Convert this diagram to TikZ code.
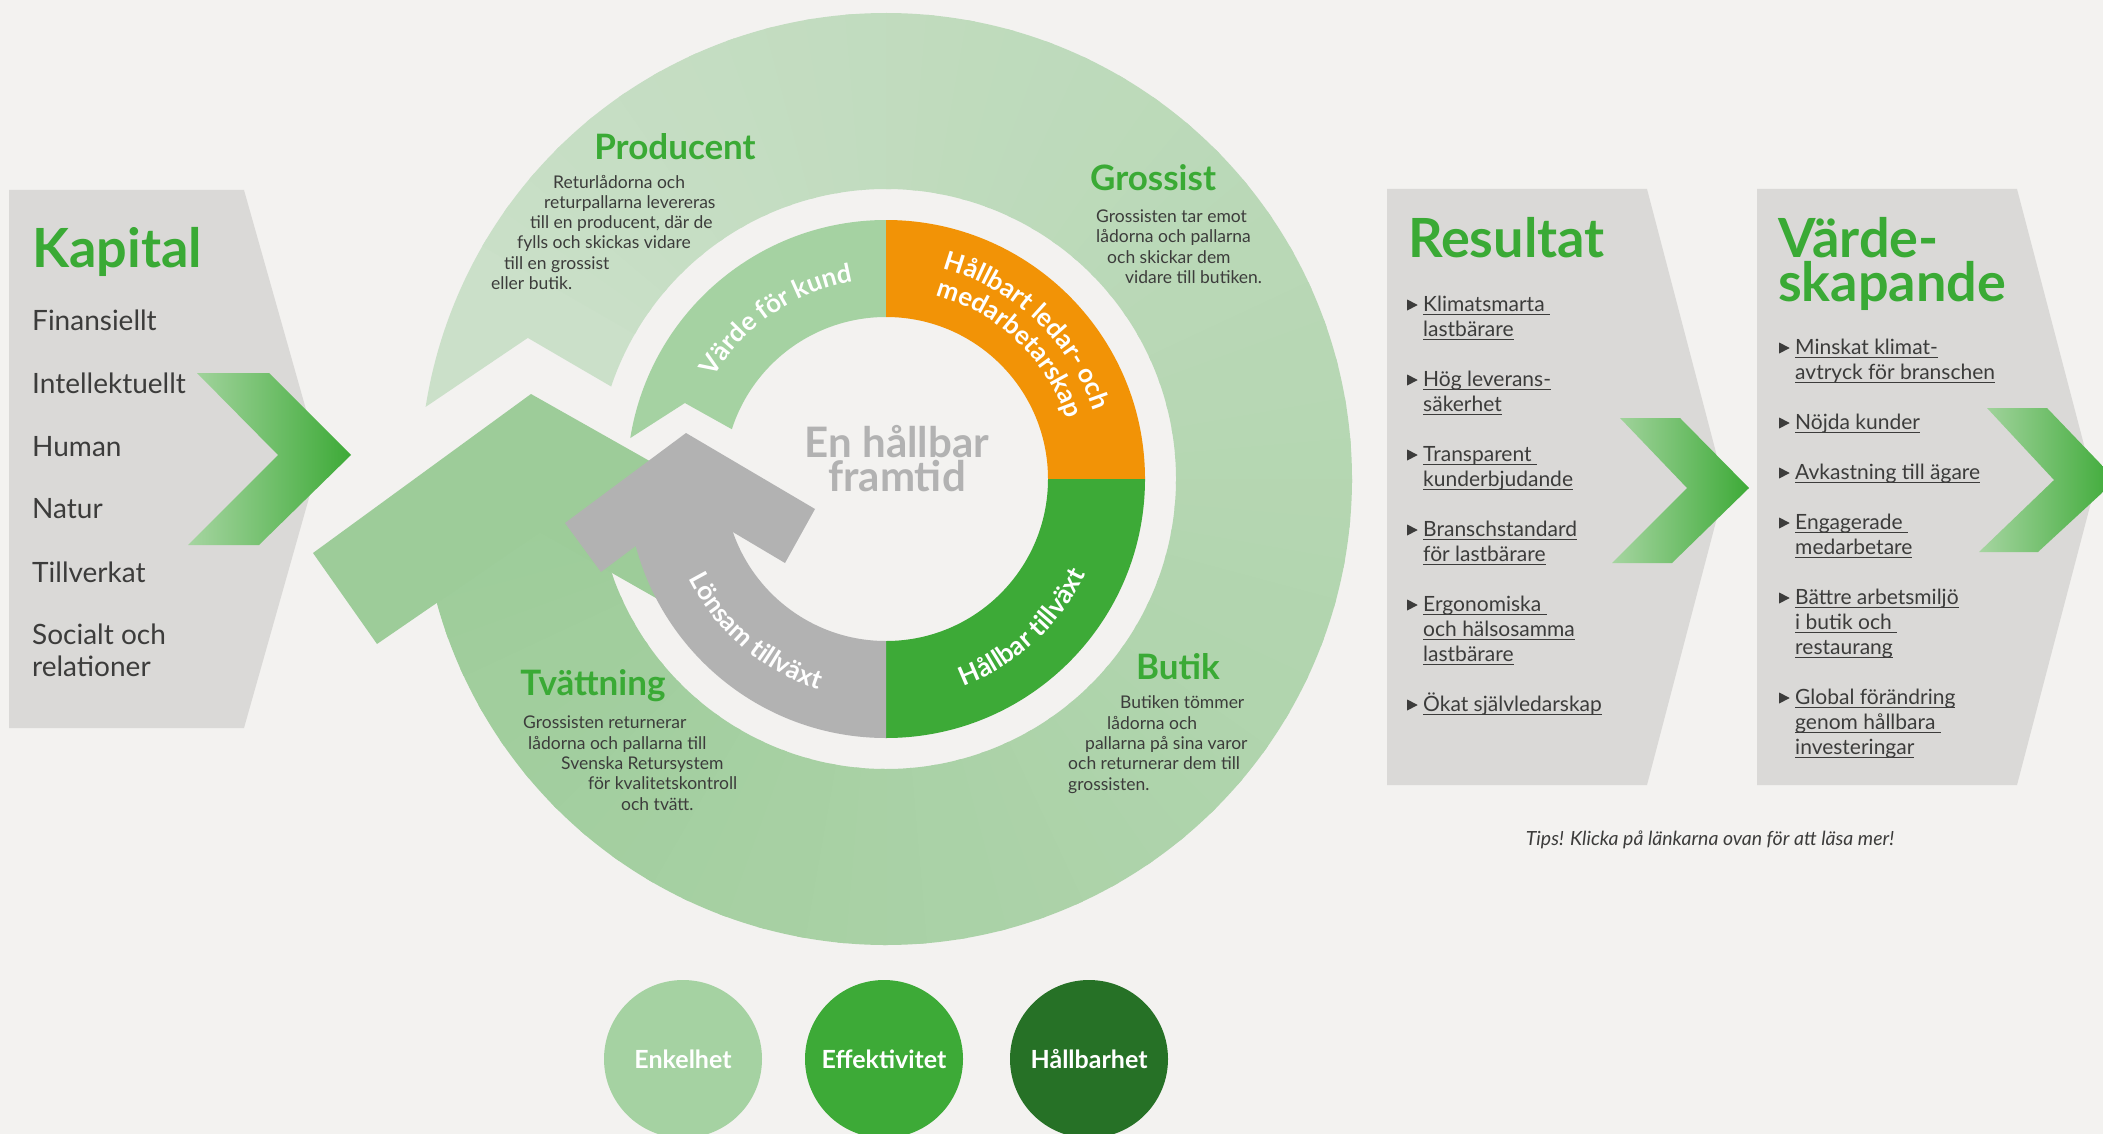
\documentclass[tikz,border=0pt]{standalone}
\usepackage{fontspec}
\setmainfont{Lato}
\usetikzlibrary{decorations.text}

\definecolor{bg}{HTML}{F3F2F0}
\definecolor{panel}{HTML}{DAD9D7}
\definecolor{kgreen}{HTML}{3AAA35}
\definecolor{txt}{HTML}{3C3C3B}
\definecolor{ringtail}{HTML}{CBE0C9}
\definecolor{ringhead}{HTML}{9DCC99}
\definecolor{innerlight}{HTML}{A5D2A2}
\definecolor{orng}{HTML}{F29306}
\definecolor{ingreen}{HTML}{3DAA37}
\definecolor{ingrey}{HTML}{B2B2B2}
\definecolor{darkgreen}{HTML}{267126}
\definecolor{chevlo}{HTML}{A6D5A1}
\definecolor{chevhi}{HTML}{3DAA37}

% underlined link text, rule just under the baseline
\newcommand\lnk[1]{\setbox0\hbox{#1}\rlap{\rule[-3.6pt]{\wd0}{1.1pt}}\box0}
\newcommand\bul{\makebox[16pt][l]{\tikz[baseline=0pt]\fill (0pt,0.5pt) -- (10.5pt,6pt) -- (0pt,11.5pt) -- cycle;}}
\newcommand\ind{\hspace*{16pt}}

\begin{document}
% multi-line nodes sit on the baseline of their last line
\begin{tikzpicture}[x=1pt, y=-1pt,
    ttl/.style={font=\bfseries\fontsize{54}{44}\selectfont, text=kgreen, anchor=base west, inner sep=0, align=left},
    capitem/.style={font=\fontsize{28}{32}\selectfont, text=txt, anchor=base west, inner sep=0, align=left},
    lst/.style={font=\fontsize{21}{25}\selectfont, text=txt, anchor=base west, inner sep=0, align=left},
    stage/.style={font=\bfseries\fontsize{35}{35}\selectfont, text=kgreen, anchor=base, inner sep=0},
    note/.style={font=\fontsize{17.5}{20.3}\selectfont, text=txt, anchor=base west, inner sep=0, align=left},
    dot/.style={circle, minimum size=158pt, inner sep=0, text=white, font=\bfseries\fontsize{25}{25}\selectfont},
    chev/.style={left color=chevlo, right color=chevhi},
    arctext/.style={decorate, decoration={text along path, text align=center, text color=white,
        text={|\bfseries\fontsize{26}{26}\selectfont|#1}}}]

  \fill[bg, use as bounding box] (0,0) rectangle (2103,1134);

  % the three panels
  \fill[panel] (9,190) -- (244,190) -- (320,459) -- (244,728) -- (9,728) -- cycle;
  \fill[panel] (1387,189) -- (1647,189) -- (1725,487) -- (1647,785) -- (1387,785) -- cycle;
  \fill[panel] (1757,189) -- (2017,189) -- (2095,487) -- (2017,785) -- (1757,785) -- cycle;

  \path[chev] (197,373) -- (269,373) -- (351,455) -- (259,545) -- (188,545) -- (278,455) -- cycle;
  \path[chev] (1620,418) -- (1680,418) -- (1749,488) -- (1672,563) -- (1612,563) -- (1687,488) -- cycle;
  \path[chev] (1987,408) -- (2047,408) -- (2116,480) -- (2038,552) -- (1979,552) -- (2054,480) -- cycle;

  % outer cycle, light at the tail and darker towards the head
  \begin{scope}[shift={(886,479)}]
    \fill[ringtail] (188.9:466) arc[start angle=188.9, end angle=211, radius=466]
      -- (211:290) arc[start angle=211, end angle=198.6, radius=290] -- (201.5:385) -- cycle;
    \foreach \a in {210,215,...,530}{
      \pgfmathsetmacro\b{\a+6}
      \pgfmathtruncatemacro\m{(\a-190)/3.45}
      \fill[ringhead!\m!ringtail] (\a:466) arc[start angle=\a, end angle=\b, radius=466]
        -- (\b:290) arc[start angle=\b, end angle=\a, radius=290] -- cycle;
    }
  \end{scope}
  \fill[ringhead] (531,394) -- (313,553) -- (377,644) -- (540,532) -- (677,610) -- (731,507) -- cycle;

  % inner ring
  \begin{scope}[shift={(886,479)}]
    \fill[innerlight] (189.1:259) arc[start angle=189.1, end angle=270, radius=259]
      -- (270:162) arc[start angle=270, end angle=197.9, radius=162] -- (200.7:215) -- cycle;
    \fill[orng] (270:259) arc[start angle=270, end angle=360, radius=259]
      -- (0:162) arc[start angle=360, end angle=270, radius=162] -- cycle;
    \fill[ingreen] (0:259) arc[start angle=0, end angle=90, radius=259]
      -- (90:162) arc[start angle=90, end angle=0, radius=162] -- cycle;
    \fill[ingrey] (90:259) arc[start angle=90, end angle=178, radius=259]
      -- (178:162) arc[start angle=178, end angle=90, radius=162] -- cycle;
  \end{scope}
  \fill[ingrey] (686,433) -- (565,523) -- (601,572) -- (689,506) -- (785,563) -- (815,509) -- cycle;

  \begin{scope}[shift={(886,479)}]
    \path[arctext=Värde för kund] (195:200) arc[start angle=195, end angle=276, radius=200];
    \path[arctext=Hållbart ledar- och] (270:218) arc[start angle=270, end angle=357, radius=218];
    \path[arctext=medarbetarskap] (270:190) arc[start angle=270, end angle=357, radius=190];
    \path[arctext=Hållbar tillväxt] (90:221) arc[start angle=90, end angle=5, radius=221];
    \path[arctext=Lönsam tillväxt] (175:221) arc[start angle=175, end angle=86, radius=221];
  \end{scope}

  \node[font=\bfseries\fontsize{42}{34}\selectfont, text=ingrey, align=center, anchor=base, inner sep=0]
    (goal) at (897,491) {En hållbar\\framtid};

  % stages round the cycle
  \node[stage] (prod) at (675,160) {Producent};
  \node[note] (prodtxt) at (491,289.5) {\hspace*{62pt}Returlådorna och\\ \hspace*{53pt}returpallarna levereras\\
    \hspace*{39pt}till en producent, där de\\ \hspace*{26pt}fylls och skickas vidare\\
    \hspace*{13pt}till en grossist\\ eller butik.};
  \node[stage] (gros) at (1153,190) {Grossist};
  \node[note] (grostxt) at (1096,283.5) {Grossisten tar emot\\ lådorna och pallarna\\
    \hspace*{11pt}och skickar dem\\ \hspace*{29pt}vidare till butiken.};
  \node[stage] (tvatt) at (593,695) {Tvättning};
  \node[note] (tvatttxt) at (523,810) {Grossisten returnerar\\ \hspace*{5pt}lådorna och pallarna till\\
    \hspace*{38pt}Svenska Retursystem\\ \hspace*{65pt}för kvalitetskontroll\\ \hspace*{98pt}och tvätt.};
  \node[stage] (butik) at (1178,679) {Butik};
  \node[note] (butiktxt) at (1068,790) {\hspace*{52pt}Butiken tömmer\\ \hspace*{39pt}lådorna och\\
    \hspace*{17pt}pallarna på sina varor\\ och returnerar dem till\\ grossisten.};

  % capital
  \node[ttl] (kap) at (32,267.5) {Kapital};
  \foreach \y/\t [count=\i] in {330/Finansiellt, 393/Intellektuellt, 456/Human, 518/Natur, 582/Tillverkat}
    \node[capitem] (kap\i) at (32,\y) {\t};
  \node[capitem] (kap6) at (32,676) {Socialt och\\relationer};

  % results
  \node[ttl] (res) at (1408,257) {Resultat};
  \node[lst] (reslist) at (1407,711) {\bul\lnk{Klimatsmarta\ }\\ \ind\lnk{lastbärare}\\[25pt]
    \bul\lnk{Hög leverans-}\\ \ind\lnk{säkerhet}\\[25pt]
    \bul\lnk{Transparent\ }\\ \ind\lnk{kunderbjudande}\\[25pt]
    \bul\lnk{Branschstandard}\\ \ind\lnk{för lastbärare}\\[25pt]
    \bul\lnk{Ergonomiska\ }\\ \ind\lnk{och hälsosamma}\\ \ind\lnk{lastbärare}\\[25pt]
    \bul\lnk{Ökat självledarskap}};

  % value creation
  \node[ttl] (varde) at (1778,301) {Värde-\\skapande};
  \node[lst] (vardelist) at (1779,754) {\bul\lnk{Minskat klimat-}\\ \ind\lnk{avtryck för branschen}\\[25pt]
    \bul\lnk{Nöjda kunder}\\[25pt]
    \bul\lnk{Avkastning till ägare}\\[25pt]
    \bul\lnk{Engagerade\ }\\ \ind\lnk{medarbetare}\\[25pt]
    \bul\lnk{Bättre arbetsmiljö}\\ \ind\lnk{i butik och\ }\\ \ind\lnk{restaurang}\\[25pt]
    \bul\lnk{Global förändring}\\ \ind\lnk{genom hållbara\ }\\ \ind\lnk{investeringar}};

  \node[font=\itshape\fontsize{19.5}{19.5}\selectfont, text=txt, anchor=base, inner sep=0]
    (tips) at (1710,845) {Tips! Klicka på länkarna ovan för att läsa mer!};

  % core values
  \node[dot, fill=innerlight] (enk) at (683,1059) {Enkelhet};
  \node[dot, fill=ingreen] (eff) at (884,1059) {Effektivitet};
  \node[dot, fill=darkgreen] (hall) at (1089,1059) {Hållbarhet};
\end{tikzpicture}
\end{document}
